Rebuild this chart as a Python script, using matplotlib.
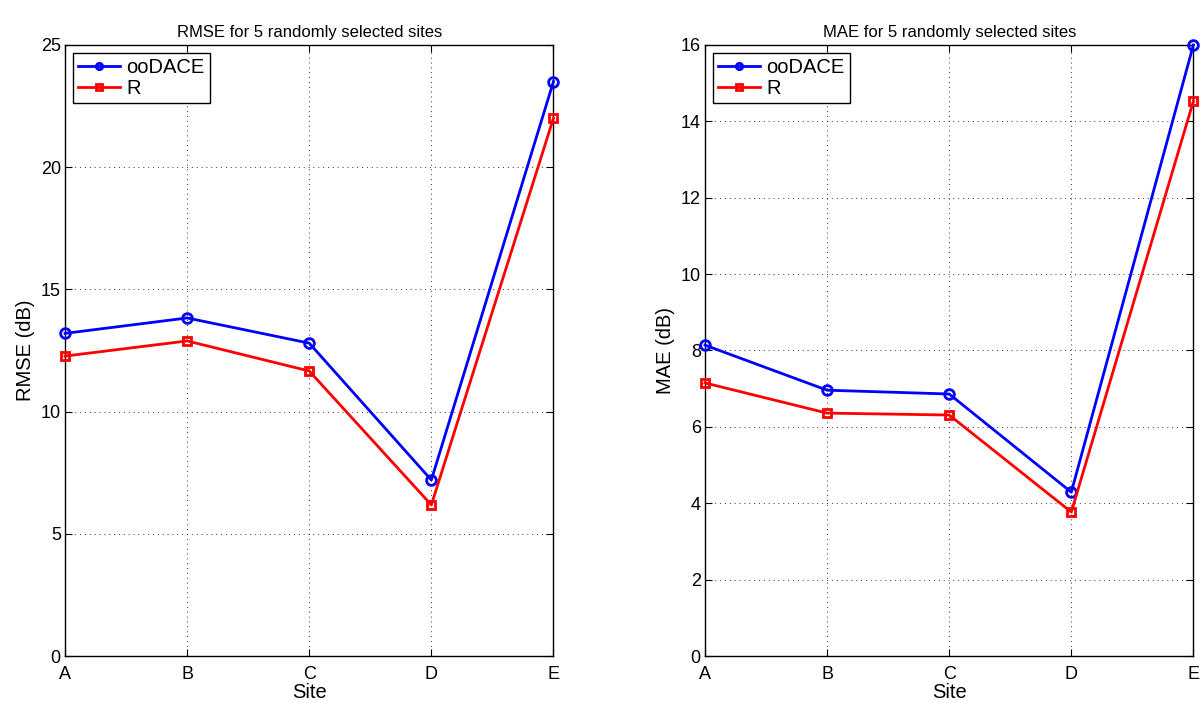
import matplotlib
matplotlib.use("Agg")
import matplotlib.pyplot as plt

plt.rcParams['font.family'] = ['Liberation Sans', 'DejaVu Sans']

sites = ["A", "B", "C", "D", "E"]
rmse_oodace = [13.2, 13.83, 12.8, 7.2, 23.5]
rmse_r = [12.27, 12.89, 11.66, 6.18, 22.0]
mae_oodace = [8.14, 6.96, 6.86, 4.29, 16.0]
mae_r = [7.15, 6.36, 6.31, 3.77, 14.53]

fig = plt.figure(figsize=(12, 7.02), dpi=100)
ax1 = fig.add_axes([0.0542, 0.0655, 0.407, 0.8705])
ax2 = fig.add_axes([0.5875, 0.0655, 0.407, 0.8705])


def draw(ax, oodace, r, ymax, yticks, title, ylabel):
    x = list(range(len(sites)))
    ax.plot(x, oodace, color="#0000ff", lw=2.0, marker="o", ms=7,
            mfc="none", mec="#0000ff", mew=2.0, label="ooDACE", clip_on=False, zorder=3)
    ax.plot(x, r, color="#ff0000", lw=2.0, marker="s", ms=6,
            mfc="none", mec="#ff0000", mew=2.0, label="R", clip_on=False, zorder=3)
    ax.set_xlim(0, len(sites) - 1)
    ax.set_ylim(0, ymax)
    ax.set_xticks(x)
    ax.set_xticklabels(sites)
    ax.set_yticks(yticks)
    ax.tick_params(direction="in", top=True, right=True, labelsize=13, length=5,
                   width=0.8, pad=3)
    ax.tick_params(axis="x", pad=7)
    ax.grid(True, linestyle=(0, (1, 4)), color="black", linewidth=0.7, alpha=0.8)
    for s in ax.spines.values():
        s.set_linewidth(1.0)
    ax.set_title(title, fontsize=12, pad=6)
    ax.set_xlabel("Site", fontsize=14.5, labelpad=0)
    ax.set_ylabel(ylabel, fontsize=14.5, labelpad=4)
    leg = ax.legend(loc="upper left", fontsize=14.5, fancybox=False, framealpha=1,
                    edgecolor="black", borderaxespad=0.4, handlelength=2.1,
                    handletextpad=0.3, borderpad=0.25, labelspacing=0.1,
                    markerscale=0.65)
    leg.get_frame().set_linewidth(1.0)


draw(ax1, rmse_oodace, rmse_r, 25, [0, 5, 10, 15, 20, 25],
     "RMSE for 5 randomly selected sites", "RMSE (dB)")
draw(ax2, mae_oodace, mae_r, 16, [0, 2, 4, 6, 8, 10, 12, 14, 16],
     "MAE for 5 randomly selected sites", "MAE (dB)")

fig.savefig("out.png", dpi=100)
